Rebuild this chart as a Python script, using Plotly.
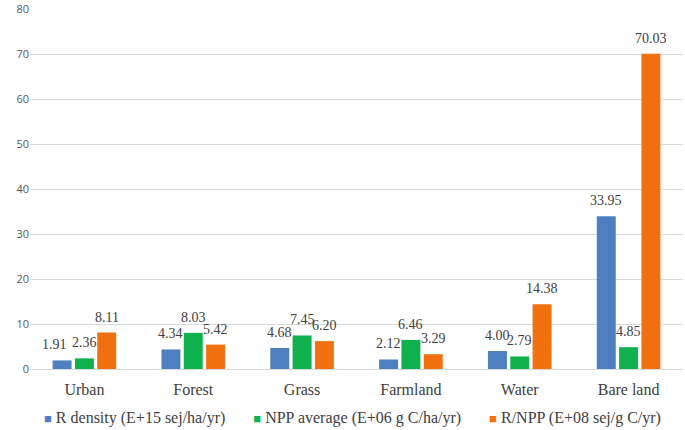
import plotly.graph_objects as go

categories = ["Urban", "Forest", "Grass", "Farmland", "Water", "Bare land"]
r_density = [1.91, 4.34, 4.68, 2.12, 4.00, 33.95]
npp_average = [2.36, 8.03, 7.45, 6.46, 2.79, 4.85]
r_npp = [8.11, 5.42, 6.20, 3.29, 14.38, 70.03]
series_names = ["R density (E+15 sej/ha/yr)", "NPP average (E+06 g C/ha/yr)", "R/NPP (E+08 sej/g C/yr)"]
colors = ["#4E80C1", "#10B04F", "#F1700F"]
y_ticks = [0, 10, 20, 30, 40, 50, 60, 70, 80]

W, H = 685, 430
ML, MR, MT, MB = 30, 2, 9, 61
BARGAP, BARGROUPGAP = 0.385, 0.15

fig = go.Figure()
series = [r_density, npp_average, r_npp]
for name, vals, c in zip(series_names, series, colors):
    fig.add_trace(go.Bar(
        x=categories, y=vals, name=name,
        marker=dict(color=c, line=dict(width=0)),
        hoverinfo="skip",
    ))

# value labels above bars (placed via data coordinates, shifted to each bar's slot)
slot = (W - ML - MR) / len(categories) * (1 - BARGAP) / len(series)
for i, vals in enumerate(series):
    for j, (cat, v) in enumerate(zip(categories, vals)):
        extra = -8 if (i == 0 and j == 0) else 0  # reference nudges this label left
        fig.add_annotation(
            x=cat, y=v, xref="x", yref="y", text=f"{v:.2f}", showarrow=False,
            xanchor="center", yanchor="bottom", xshift=(i - 1) * slot + extra, yshift=6,
            font=dict(family="Liberation Serif", size=14, color="#404040"),
        )

# legend drawn as a text line (Excel-style compact legend)
sq = "<span style='color:{c};font-size:13px'>■</span>"
legend_text = "       ".join(sq.format(c=c) + " " + n for n, c in zip(series_names, colors))
fig.add_annotation(
    text=legend_text, xref="paper", yref="paper", x=0.494, y=-0.136,
    xanchor="center", yanchor="middle", showarrow=False,
    font=dict(family="Liberation Serif", size=16, color="#404040"),
)

fig.update_layout(
    width=W, height=H,
    margin=dict(l=ML, r=MR, t=MT, b=MB),
    paper_bgcolor="white", plot_bgcolor="white",
    barmode="group", bargap=BARGAP, bargroupgap=BARGROUPGAP,
    showlegend=False,
    xaxis=dict(tickfont=dict(family="Liberation Serif", size=16, color="#404040"),
               showline=False, showgrid=False, ticks="", ticklen=0, ticklabelstandoff=9),
    yaxis=dict(range=[0, 80], tickvals=y_ticks, showgrid=True, gridcolor="#D9D9D9", gridwidth=1,
               zeroline=True, zerolinecolor="#D9D9D9", zerolinewidth=1,
               tickfont=dict(family="Open Sans", size=11, color="#595959"), ticks="", ticklen=0),
)
fig.write_html("out.html", config={"displayModeBar": False},
               post_script="document.body.style.margin='0px';")
